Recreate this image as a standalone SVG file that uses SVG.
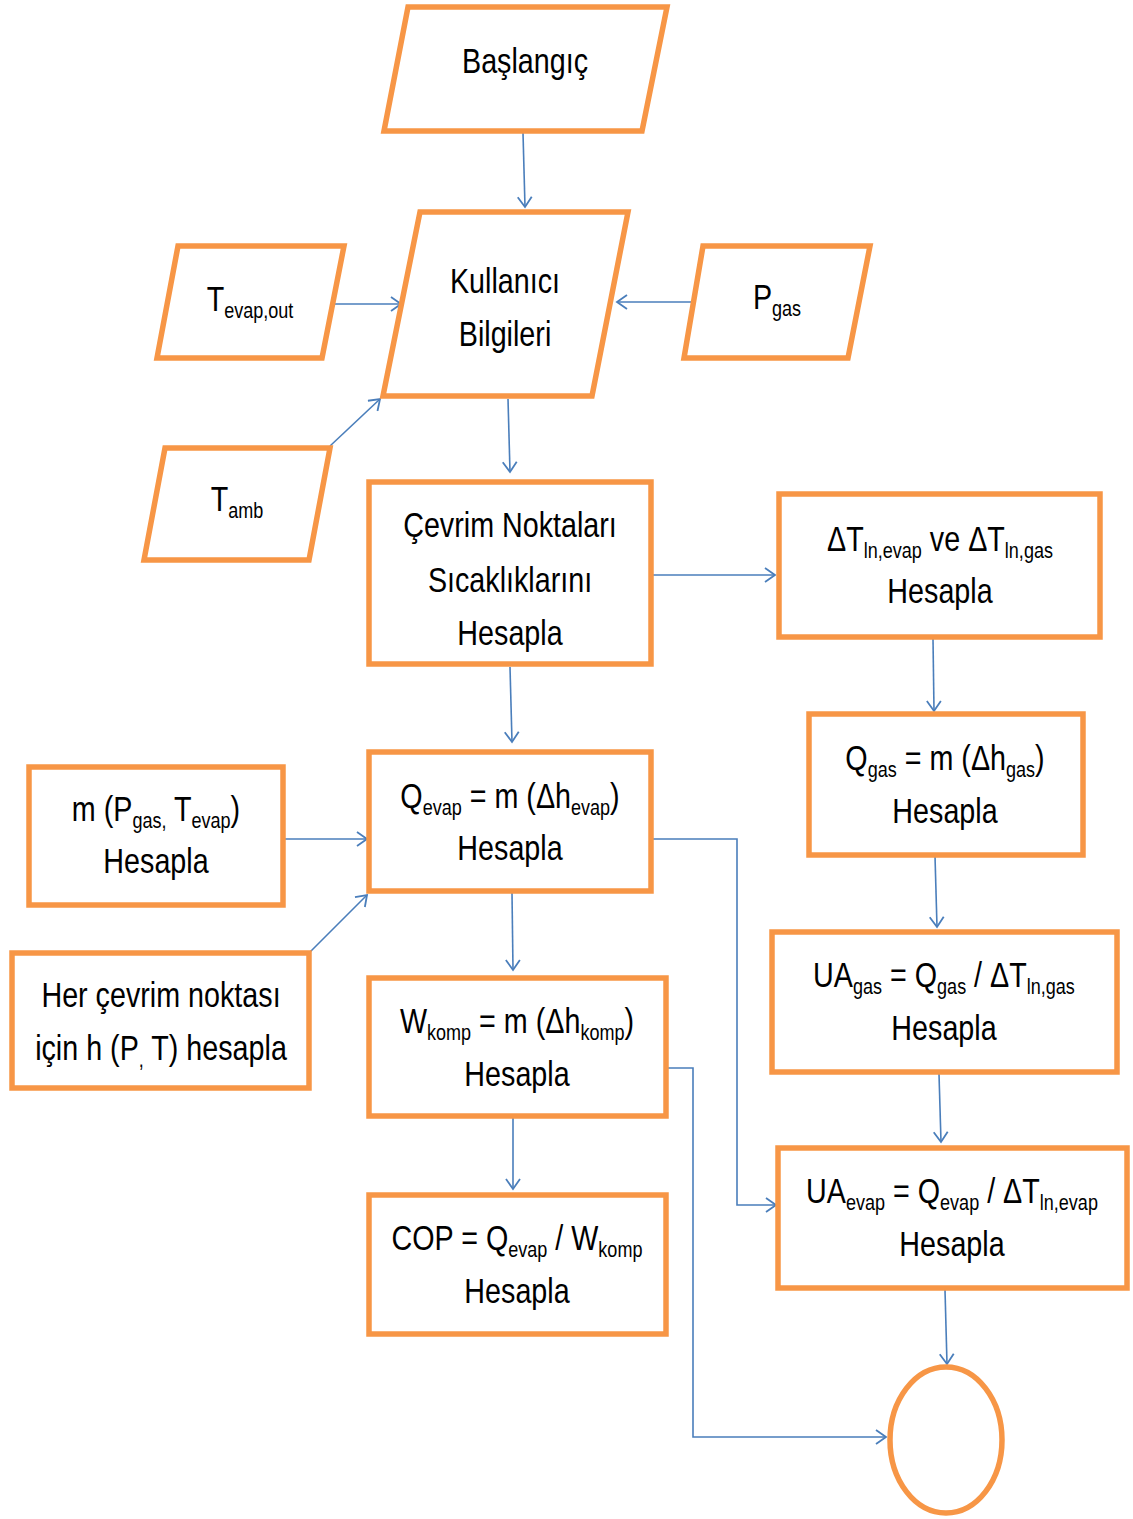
<svg xmlns="http://www.w3.org/2000/svg" width="1133" height="1519" viewBox="0 0 1133 1519">
<style>
.n{fill:#fff;stroke:#F79646;stroke-width:5.5}
.c{fill:none;stroke:#4A7EBB;stroke-width:1.6;marker-end:url(#ah)}
.t{font-family:"Liberation Sans",Arial,sans-serif;font-size:35px;fill:#000;text-anchor:middle}
.s{font-size:22px}
</style>
<defs>
<marker id="ah" markerUnits="userSpaceOnUse" markerWidth="14" markerHeight="16" refX="12" refY="8" orient="auto">
<path d="M2,1 L12,8 L2,15" fill="none" stroke="#4A7EBB" stroke-width="1.8"/>
</marker>
</defs>
<rect width="1133" height="1519" fill="#fff"/>
<g id="connectors">
<path class="c" d="M523,133 L525,207"/>
<path class="c" d="M330,304 L401,304"/>
<path class="c" d="M693,302 L617,302"/>
<path class="c" d="M330,446 L380,399"/>
<path class="c" d="M508,399 L510,472"/>
<path class="c" d="M651,575 L775,575"/>
<path class="c" d="M933,639 L934,711"/>
<path class="c" d="M935,856 L937,927"/>
<path class="c" d="M939,1074 L941,1142"/>
<path class="c" d="M945,1290 L947,1364"/>
<path class="c" d="M510,667 L512,742"/>
<path class="c" d="M283,839 L367,839"/>
<path class="c" d="M309,953 L367,895"/>
<path class="c" d="M512,893 L513,970"/>
<path class="c" d="M651,839 L737,839 L737,1205 L776,1205"/>
<path class="c" d="M513,1118 L513,1189"/>
<path class="c" d="M666,1068 L693,1068 L693,1437 L886,1437"/>
</g>
<g id="baslangic">
<polygon class="n" points="408,7 667,7 642,131 384,131"/>
<text class="t" transform="translate(525,73) scale(0.82,1)">Başlangıç</text>
</g>
<g id="kullanici">
<polygon class="n" points="420,212 628,212 592,396 383,396"/>
<text class="t" transform="translate(505,293) scale(0.82,1)">Kullanıcı</text>
<text class="t" transform="translate(505,346) scale(0.82,1)">Bilgileri</text>
</g>
<g id="tevapout">
<polygon class="n" points="178,246 344,246 322,358 157,358"/>
<text class="t" transform="translate(250,311) scale(0.82,1)">T<tspan class="s" dy="7">evap,out</tspan></text>
</g>
<g id="pgas">
<polygon class="n" points="703,246 870,246 848,358 684,358"/>
<text class="t" transform="translate(777,309) scale(0.82,1)">P<tspan class="s" dy="7">gas</tspan></text>
</g>
<g id="tamb">
<polygon class="n" points="165,448 330,448 309,560 144,560"/>
<text class="t" transform="translate(237,511) scale(0.82,1)">T<tspan class="s" dy="7">amb</tspan></text>
</g>
<g id="cevrim">
<rect class="n" x="369" y="482" width="282" height="182"/>
<text class="t" transform="translate(510,537) scale(0.82,1)">Çevrim Noktaları</text>
<text class="t" transform="translate(510,592) scale(0.82,1)">Sıcaklıklarını</text>
<text class="t" transform="translate(510,645) scale(0.82,1)">Hesapla</text>
</g>
<g id="deltaT">
<rect class="n" x="779" y="494" width="321" height="143"/>
<text class="t" transform="translate(940,551) scale(0.82,1)">ΔT<tspan class="s" dy="7">ln,evap</tspan><tspan dy="-7"> ve ΔT</tspan><tspan class="s" dy="7">ln,gas</tspan></text>
<text class="t" transform="translate(940,603) scale(0.82,1)">Hesapla</text>
</g>
<g id="qgas">
<rect class="n" x="809" y="714" width="274" height="141"/>
<text class="t" transform="translate(945,770) scale(0.82,1)">Q<tspan class="s" dy="7">gas</tspan><tspan dy="-7"> = m (Δh</tspan><tspan class="s" dy="7">gas</tspan><tspan dy="-7">)</tspan></text>
<text class="t" transform="translate(945,823) scale(0.82,1)">Hesapla</text>
</g>
<g id="uagas">
<rect class="n" x="772" y="932" width="345" height="140"/>
<text class="t" transform="translate(944,987) scale(0.82,1)">UA<tspan class="s" dy="7">gas</tspan><tspan dy="-7"> = Q</tspan><tspan class="s" dy="7">gas</tspan><tspan dy="-7"> / ΔT</tspan><tspan class="s" dy="7">ln,gas</tspan></text>
<text class="t" transform="translate(944,1040) scale(0.82,1)">Hesapla</text>
</g>
<g id="uaevap">
<rect class="n" x="778" y="1148" width="349" height="140"/>
<text class="t" transform="translate(952,1203) scale(0.82,1)">UA<tspan class="s" dy="7">evap</tspan><tspan dy="-7"> = Q</tspan><tspan class="s" dy="7">evap</tspan><tspan dy="-7"> / ΔT</tspan><tspan class="s" dy="7">ln,evap</tspan></text>
<text class="t" transform="translate(952,1256) scale(0.82,1)">Hesapla</text>
</g>
<g id="end">
<ellipse class="n" cx="946" cy="1440" rx="56" ry="73"/>
</g>
<g id="qevap">
<rect class="n" x="369" y="752" width="282" height="139"/>
<text class="t" transform="translate(510,808) scale(0.82,1)">Q<tspan class="s" dy="7">evap</tspan><tspan dy="-7"> = m (Δh</tspan><tspan class="s" dy="7">evap</tspan><tspan dy="-7">)</tspan></text>
<text class="t" transform="translate(510,860) scale(0.82,1)">Hesapla</text>
</g>
<g id="mbox">
<rect class="n" x="29" y="767" width="254" height="138"/>
<text class="t" transform="translate(156,821) scale(0.82,1)">m (P<tspan class="s" dy="7">gas,</tspan><tspan dy="-7"> T</tspan><tspan class="s" dy="7">evap</tspan><tspan dy="-7">)</tspan></text>
<text class="t" transform="translate(156,873) scale(0.82,1)">Hesapla</text>
</g>
<g id="hbox">
<rect class="n" x="12" y="953" width="297" height="135"/>
<text class="t" transform="translate(161,1007) scale(0.82,1)">Her çevrim noktası</text>
<text class="t" transform="translate(161,1060) scale(0.82,1)">için h (P<tspan class="s" dy="7">,</tspan><tspan dy="-7"> T) hesapla</tspan></text>
</g>
<g id="wkomp">
<rect class="n" x="369" y="978" width="297" height="138"/>
<text class="t" transform="translate(517,1033) scale(0.82,1)">W<tspan class="s" dy="7">komp</tspan><tspan dy="-7"> = m (Δh</tspan><tspan class="s" dy="7">komp</tspan><tspan dy="-7">)</tspan></text>
<text class="t" transform="translate(517,1086) scale(0.82,1)">Hesapla</text>
</g>
<g id="cop">
<rect class="n" x="369" y="1195" width="297" height="139"/>
<text class="t" transform="translate(517,1250) scale(0.82,1)">COP = Q<tspan class="s" dy="7">evap</tspan><tspan dy="-7"> / W</tspan><tspan class="s" dy="7">komp</tspan></text>
<text class="t" transform="translate(517,1303) scale(0.82,1)">Hesapla</text>
</g>
</svg>
